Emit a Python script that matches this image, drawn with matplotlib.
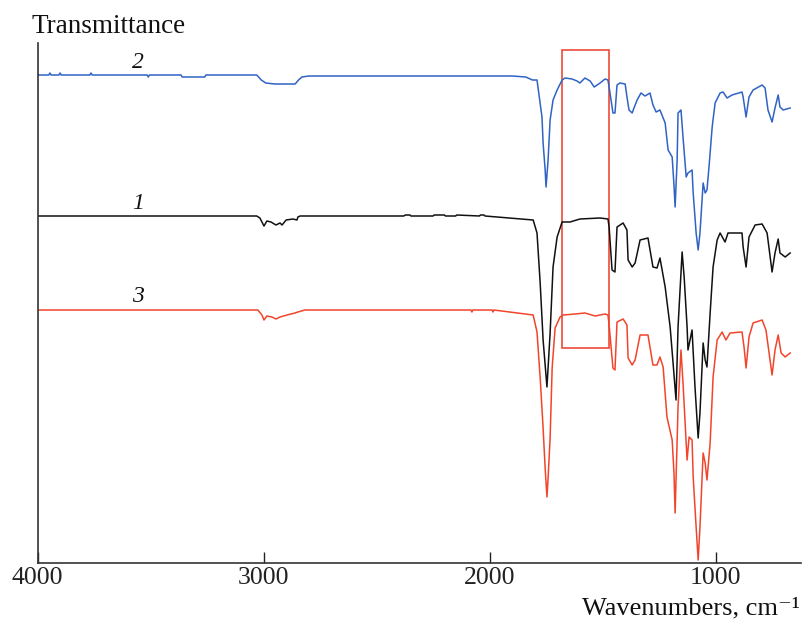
import matplotlib
matplotlib.use("Agg")
import matplotlib.pyplot as plt
from matplotlib.patches import Rectangle

plt.rcParams['font.family'] = ['Liberation Serif', 'DejaVu Serif']

# ---------------- data (wavenumber, cm-1 ; transmittance, arb. units) ----------------
wn2 = [4000, 3950, 3945, 3940, 3905, 3900, 3895, 3768, 3763, 3758, 3515, 3510, 3505,
       3365, 3360, 3260, 3255, 3030, 3010, 2990, 2950, 2900, 2860, 2845, 2830, 2800,
       1900, 1840, 1810, 1790, 1768, 1763, 1754, 1750, 1741, 1732, 1719, 1701, 1679,
       1666, 1635, 1613, 1600, 1578, 1555, 1537, 1511, 1489, 1476, 1467, 1454, 1445,
       1436, 1423, 1400, 1392, 1383, 1369, 1361, 1347, 1330, 1312, 1290, 1277, 1263,
       1246, 1223, 1210, 1192, 1184, 1179, 1170, 1166, 1153, 1144, 1130, 1122, 1104,
       1099, 1086, 1077, 1069, 1055, 1046, 1038, 1029, 1015, 1002, 980, 967, 949, 927,
       883, 878, 865, 852, 834, 794, 781, 768, 750, 737, 723, 715, 701, 670]
t2 = [488, 488, 490, 488, 488, 490, 488, 488, 490, 488, 488, 486, 488,
      488, 486, 486, 488, 488, 483, 480, 479, 479, 479, 483, 486, 487,
      487, 486, 483, 483, 446, 420, 393, 376, 403, 443, 463, 473, 483,
      485, 484, 482, 480, 485, 482, 476, 480, 484, 483, 470, 450, 450,
      478, 480, 479, 466, 453, 450, 455, 463, 470, 467, 470, 458, 451,
      453, 440, 413, 406, 378, 356, 403, 450, 453, 426, 386, 390, 393,
      370, 330, 313, 330, 380, 370, 373, 396, 436, 460, 470, 471, 465, 468,
      471, 466, 446, 466, 473, 478, 475, 453, 441, 455, 468, 456, 453, 455]

wn1 = [4000, 3030, 3016, 2998, 2985, 2967, 2945, 2927, 2918, 2900, 2870, 2852, 2848,
       2838, 2380, 2372, 2352, 2348, 2250, 2245, 2200, 2195, 2150, 2145, 2045, 2040,
       2025, 2020, 1807, 1790, 1776, 1763, 1746, 1732, 1719, 1701, 1679, 1644, 1600,
       1511, 1476, 1471, 1458, 1445, 1436, 1409, 1392, 1387, 1369, 1356, 1334, 1299,
       1277, 1259, 1246, 1223, 1201, 1188, 1175, 1166, 1148, 1139, 1126, 1122, 1104,
       1091, 1077, 1069, 1055, 1046, 1038, 1024, 1011, 993, 980, 958, 945, 883, 878,
       865, 852, 825, 794, 772, 750, 737, 723, 715, 692, 670]
t1 = [347, 347, 345, 337, 342, 341, 338, 340, 338, 343, 344, 343, 346,
      347, 347, 348, 348, 347, 347, 348, 348, 347, 347, 348, 347, 348,
      348, 347, 343, 330, 280, 223, 176, 230, 296, 326, 341, 341, 344,
      345, 344, 336, 293, 291, 336, 340, 333, 303, 296, 300, 323, 325,
      296, 295, 305, 276, 236, 200, 163, 236, 311, 286, 236, 213, 233,
      176, 125, 150, 220, 203, 196, 250, 296, 323, 330, 321, 330, 330, 316,
      296, 326, 338, 339, 330, 291, 310, 324, 310, 306, 310]

wn3 = [4000, 3025, 3007, 2998, 2985, 2963, 2945, 2927, 2896, 2861, 2848, 2817,
       2082, 2078, 2074, 1989, 1985, 1981, 1807, 1790, 1776, 1763, 1754, 1746, 1741,
       1732, 1723, 1710, 1688, 1674, 1622, 1578, 1533, 1489, 1476, 1471, 1454, 1445,
       1436, 1409, 1392, 1387, 1369, 1356, 1334, 1299, 1277, 1259, 1246, 1232, 1215,
       1192, 1184, 1179, 1166, 1153, 1144, 1126, 1117, 1104, 1099, 1086, 1077, 1069,
       1055, 1046, 1038, 1024, 1011, 993, 971, 954, 936, 883, 874, 865, 852, 834,
       794, 777, 750, 737, 723, 710, 692, 670]
t3 = [253, 253, 248, 243, 247, 246, 244, 246, 248, 250, 251, 253,
      253, 251, 253, 253, 251, 253, 248, 231, 185, 135, 95, 66, 85,
      125, 195, 235, 246, 248, 249, 250, 247, 249, 248, 238, 195, 193,
      241, 244, 238, 205, 198, 203, 228, 228, 198, 198, 206, 196, 146,
      123, 90, 50, 156, 213, 180, 103, 126, 123, 86, 36, 3, 36,
      110, 100, 83, 120, 186, 223, 231, 223, 230, 231, 216, 195, 226, 240,
      243, 233, 188, 213, 228, 210, 206, 210]

labels = ["2", "1", "3"]
label_wn = 3555
label_y = [495, 354, 261]
box_wn = (1680, 1471)
box_t = (215, 513)

colors = {"2": "#2f63c4", "1": "#111111", "3": "#f2442b"}

# ---------------- figure ----------------
fig = plt.figure(figsize=(8.02, 6.21), dpi=100)
ax = fig.add_axes([37.5 / 802, 1 - 563 / 621, (801 - 37.5) / 802, (563 - 43) / 621])

ax.plot(wn2, t2, color=colors["2"], lw=1.1)
ax.plot(wn1, t1, color=colors["1"], lw=1.1)
ax.plot(wn3, t3, color=colors["3"], lw=1.1)

for lab, yy in zip(labels, label_y):
    ax.text(label_wn, yy, lab, ha='center', va='baseline', fontsize=17,
            style='italic', color='#111111')

ax.add_patch(Rectangle((box_wn[1], box_t[0]), box_wn[0] - box_wn[1], box_t[1] - box_t[0],
                       fill=False, edgecolor='#ee4a36', lw=1.2))

ax.set_xlim(4000, 622)
ax.set_ylim(0, 520)
ax.set_xticks([4000, 3000, 2000, 1000])
ax.set_xticklabels(["4000", "3000", "2000", "1000"])
ax.set_yticks([])
ax.tick_params(axis='x', direction='in', length=8, width=1.0, pad=3,
               labelsize=18.5, colors='#222222')
for s in ['top', 'right']:
    ax.spines[s].set_visible(False)
for s in ['left', 'bottom']:
    ax.spines[s].set_linewidth(1.2)
    ax.spines[s].set_color('#333333')

fig.text(32 / 802, 1 - 33 / 621, "Transmittance", fontsize=19.5, ha='left',
         va='baseline', color='#111111')
fig.text(800 / 802, 1 - 614 / 621, "Wavenumbers, cm\u207b\u00b9", fontsize=19,
         ha='right', va='baseline', color='#111111')

fig.savefig("out.png", dpi=100)
